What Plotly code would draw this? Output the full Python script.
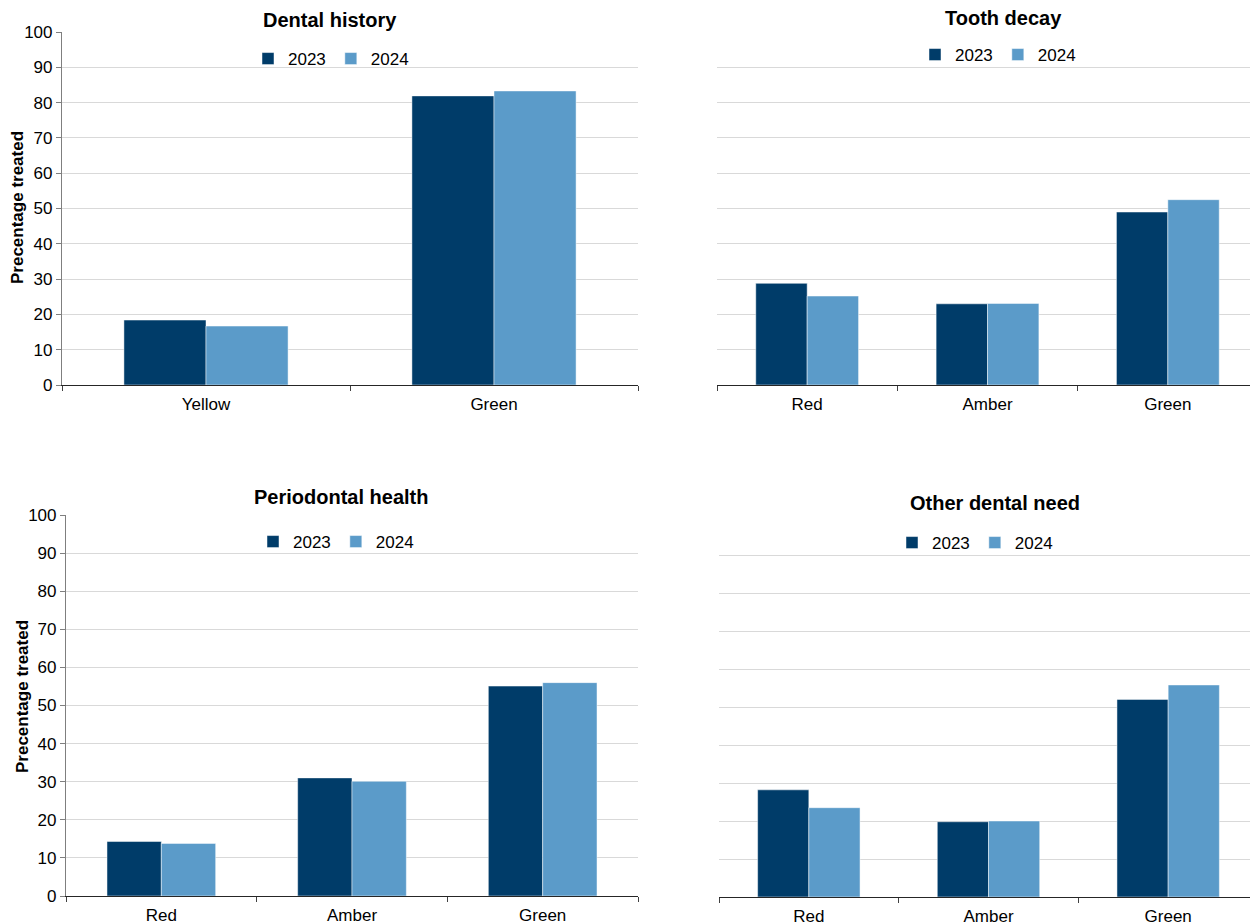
import plotly.graph_objects as go

# ---- data ----
years = ["2023", "2024"]
cats_history = ["Yellow", "Green"]
history_2023 = [18.4, 81.9]
history_2024 = [16.7, 83.3]

cats_rag = ["Red", "Amber", "Green"]
decay_2023 = [28.8, 23.0, 49.0]
decay_2024 = [25.2, 23.1, 52.5]

perio_2023 = [14.3, 31.0, 55.1]
perio_2024 = [13.8, 30.1, 56.0]

other_2023 = [28.2, 19.8, 52.0]
other_2024 = [23.5, 20.0, 55.8]

titles = ["Dental history", "Tooth decay", "Periodontal health", "Other dental need"]
y_title = "Precentage treated"
y_ticks = [0, 10, 20, 30, 40, 50, 60, 70, 80, 90, 100]

# ---- styling ----
OFF = 8  # page body margin
W, H = 1258 - OFF, 924 - OFF
C23 = "#003c69"
C24 = "#5b9bc9"
FONT = "Liberation Sans, Arial, sans-serif"

def px(x):
    return (x - OFF) / W

def py(y):
    return 1 - (y - OFF) / H

panels = [
    # cats, s23, s24, xdom(px), ydom(px top,bottom), axis suffix, legend name, legend centre, title pos, left?
    (cats_history, history_2023, history_2024, (62, 638), (32, 385), "", "legend", (335, 59), (330, 20), True),
    (cats_rag, decay_2023, decay_2024, (717, 1258), (32, 385), "2", "legend2", (1002, 55), (1003, 18), False),
    (cats_rag, perio_2023, perio_2024, (66, 638), (515, 896), "3", "legend3", (340, 542), (341, 497), True),
    (cats_rag, other_2023, other_2024, (719, 1258), (517, 897), "4", "legend4", (979, 543), (995, 503), False),
]

fig = go.Figure()
layout = dict(
    width=W, height=H,
    margin=dict(l=0, r=0, t=0, b=0, pad=0, autoexpand=False),
    paper_bgcolor="white", plot_bgcolor="white",
    font=dict(family=FONT, size=17, color="#000000"),
    barmode="group", bargap=0.43, bargroupgap=0,
    annotations=[],
)

for i, (cats, s23, s24, xd, yd, sfx, lg, lpos, tpos, left) in enumerate(panels):
    xa = "x" + sfx
    ya = "y" + sfx
    for name, vals, col in ((years[0], s23, C23), (years[1], s24, C24)):
        fig.add_trace(go.Bar(
            x=cats, y=vals, name=name, xaxis=xa, yaxis=ya,
            marker=dict(color=col, line=dict(color="rgba(255,255,255,0.6)", width=0.8)),
            legend=lg, showlegend=True,
            offsetgroup=name,
        ))
    xkey = "xaxis" + sfx
    ykey = "yaxis" + sfx
    layout[xkey] = dict(
        domain=[px(xd[0]), px(xd[1])], anchor=ya, automargin=False,
        type="category", showgrid=False, zeroline=False,
        showline=True, linecolor="#262626", linewidth=1.2,
        ticks="outside", tickson="boundaries", ticklen=5, tickcolor="#404040",
        ticklabelstandoff=3,
        tickfont=dict(size=17, color="#000000"),
    )
    layout[ykey] = dict(
        domain=[py(yd[1]), py(yd[0])], anchor=xa, automargin=False,
        range=[0, 100], tickvals=y_ticks, showgrid=True, gridcolor="#d9d9d9", gridwidth=1,
        zeroline=False,
        showline=left, linecolor="#7f7f7f", linewidth=1.2,
        ticks="outside" if left else "", ticklen=5, tickcolor="#7f7f7f",
        showticklabels=left, tickfont=dict(size=17, color="#000000"),
    )
    layout[lg] = dict(
        orientation="h", x=px(lpos[0] - 4), y=py(lpos[1]), xanchor="center", yanchor="middle",
        bgcolor="rgba(0,0,0,0)", font=dict(size=17, color="#000000"),
        itemwidth=30, tracegroupgap=0,
    )
    layout["annotations"].append(dict(
        text="<b>%s</b>" % titles[i], x=px(tpos[0]), y=py(tpos[1]),
        xref="paper", yref="paper", showarrow=False,
        xanchor="center", yanchor="middle", font=dict(size=20, color="#000000", family=FONT),
    ))

for xc, yc in ((17, 208), (22, 697)):
    layout["annotations"].append(dict(
        text="<b>%s</b>" % y_title, x=px(xc), y=py(yc),
        xref="paper", yref="paper", showarrow=False, textangle=-90,
        xanchor="center", yanchor="middle", font=dict(size=17, color="#000000", family=FONT),
    ))

fig.update_layout(**layout)
fig.write_html("out.html")
